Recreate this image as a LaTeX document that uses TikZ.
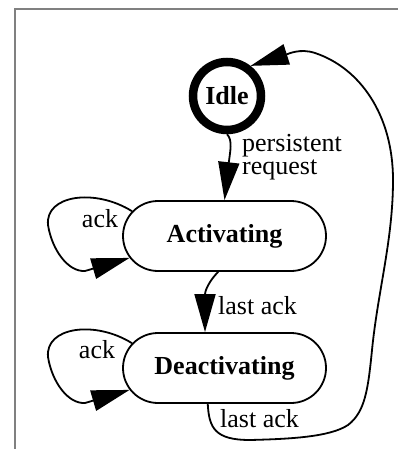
\documentclass[tikz,border=0pt]{standalone}
\usepackage{fontspec}
\setmainfont{Liberation Serif}
\usetikzlibrary{shapes.misc,arrows.meta}
\begin{document}
\begin{tikzpicture}[x=1pt,y=-1pt]
	\tikzstyle{every node}+=[inner sep=0pt, font=\fontsize{26}{23}\selectfont]
	\tikzstyle{state}=[draw, line width=1.8pt, rounded rectangle, minimum width=203pt, minimum height=70pt, font=\fontsize{26}{23}\selectfont\bfseries]
	\tikzstyle{trans}=[line width=1.8pt, -{Triangle[length=38pt,width=21pt]}]
	\useasboundingbox (0,0) rectangle (398,449);
	\draw [gray, line width=2pt] (15,449) -- (15,9) -- (398,9);
	% states
	\node [draw, circle, line width=8.5pt, minimum size=68pt, font=\fontsize{26}{23}\selectfont\bfseries] (idle) at (227,96) {Idle};
	\node [state] (act) at (224.5,236) {Activating};
	\node [state] (deact) at (224.5,368) {Deactivating};
	% transitions
	\draw [trans] (idle.south) .. controls (233,140) and (230,152) .. (act.north);
	\node [anchor=west, align=left] (lblreq) at (242,157) {persistent\\request};
	\draw [trans] (act.260) .. controls (210,280) and (205,290) .. (deact.north west -| 205,0);
	\node [anchor=base west] (lbllast) at (218,314) {last ack};
	\draw [trans] (act.165) .. controls (95,188) and (45,195) .. (48,225) .. controls (52,250) and (68,272) .. (85,271) -- (act.193);
	\node [anchor=base] (lblack) at (100,227) {ack};
	\draw [trans] (deact.165) .. controls (95,320) and (45,327) .. (48,357) .. controls (52,382) and (68,404) .. (85,403) -- (deact.193);
	\node [anchor=base] (lblackb) at (97,358) {ack};
	\draw [trans] (deact.245) .. controls (209,428) and (215,440) .. (250,440)
		.. controls (290,439) and (330,437) .. (348,425)
		.. controls (365,412) and (368,390) .. (372,350)
		.. controls (378,290) and (393,240) .. (393,180)
		.. controls (393,115) and (360,68) .. (315,53)
		.. controls (300,48) and (288,54) .. (idle.52);
	\node [anchor=base west] (lbllastb) at (220,427) {last ack};
\end{tikzpicture}
\end{document}
